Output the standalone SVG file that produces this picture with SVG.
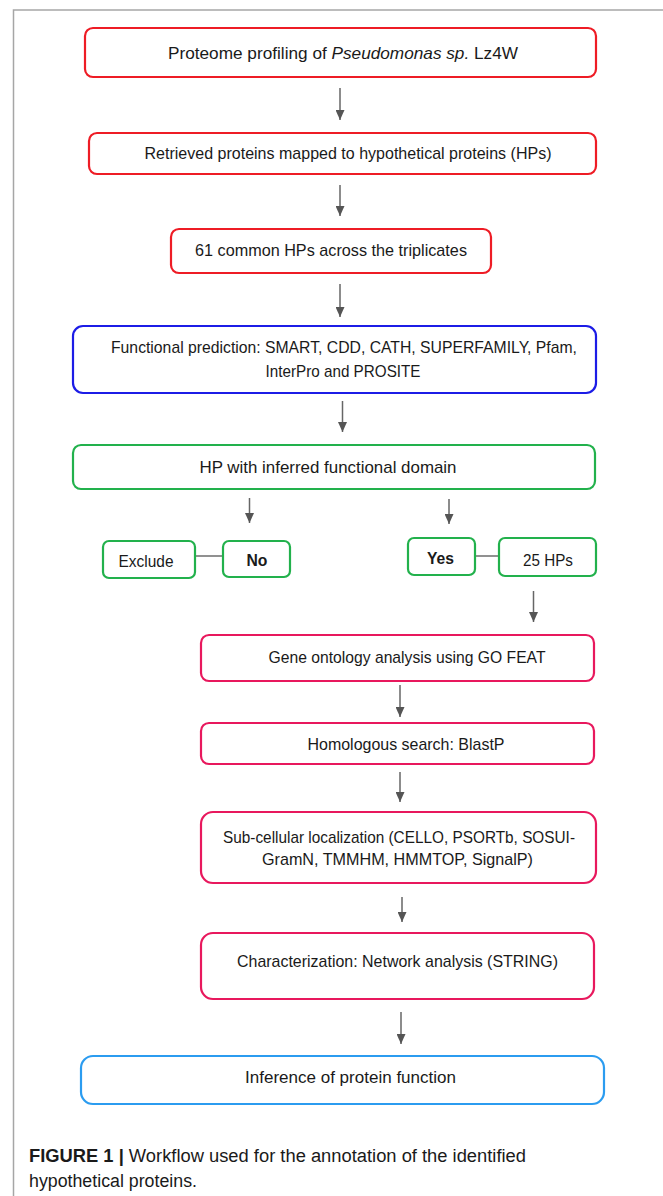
<svg xmlns="http://www.w3.org/2000/svg" width="663" height="1196" viewBox="0 0 663 1196">
<style>
.box{fill:#fff;stroke-width:2.2}
.red{stroke:#ee1c25}
.blue{stroke:#1c1ce6}
.green{stroke:#22b14c}
.pink{stroke:#e8185d}
.lblue{stroke:#2b9cf0}
.t{font-family:"Liberation Sans",Arial,sans-serif;font-size:17px;fill:#1a1a1a;text-anchor:middle}
.b{font-weight:bold}
.arr{stroke:#666;stroke-width:1.5;fill:none;marker-end:url(#ah)}
.ln{stroke:#555;stroke-width:1.3}
.cap{font-family:"Liberation Sans",Arial,sans-serif;font-size:18px;fill:#1a1a1a}
</style>
<defs>
<marker id="ah" markerUnits="userSpaceOnUse" markerWidth="10" markerHeight="9" viewBox="0 0 10 9" refX="10" refY="4.5" orient="auto">
<path d="M0,0 L10,4.5 L0,9 z" fill="#555"/>
</marker>
</defs>
<rect width="663" height="1196" fill="#fff"/>
<g id="frame">
<path d="M13.5,1196 L13.5,10 L663,10" fill="none" stroke="#a6a6a6" stroke-width="1.5"/>
</g>
<g id="connectors">
<line class="arr" x1="340" y1="88" x2="340" y2="120"/>
<line class="arr" x1="340" y1="185" x2="340" y2="216"/>
<line class="arr" x1="340" y1="284" x2="340" y2="317"/>
<line class="arr" x1="342.5" y1="401" x2="342.5" y2="432"/>
<line class="arr" x1="249.5" y1="498" x2="249.5" y2="523"/>
<line class="arr" x1="449" y1="499" x2="449" y2="524"/>
<line class="arr" x1="533.5" y1="591" x2="533.5" y2="622"/>
<line class="arr" x1="400" y1="685" x2="400" y2="717"/>
<line class="arr" x1="400" y1="772" x2="400" y2="802"/>
<line class="arr" x1="402" y1="897" x2="402" y2="922"/>
<line class="arr" x1="401" y1="1012" x2="401" y2="1044"/>
<line class="ln" x1="195" y1="556" x2="223" y2="556"/>
<line class="ln" x1="475" y1="556" x2="499" y2="556"/>
</g>
<g id="n1">
<rect class="box red" x="85" y="28" width="511" height="49" rx="8"/>
<text class="t" x="343" y="59" textLength="350" lengthAdjust="spacingAndGlyphs">Proteome profiling of <tspan font-style="italic">Pseudomonas sp.</tspan> Lz4W</text>
</g>
<g id="n2">
<rect class="box red" x="89" y="133" width="507" height="41" rx="8"/>
<text class="t" x="348" y="159" textLength="407" lengthAdjust="spacingAndGlyphs">Retrieved proteins mapped to hypothetical proteins (HPs)</text>
</g>
<g id="n3">
<rect class="box red" x="171" y="229" width="320" height="44" rx="8"/>
<text class="t" x="331" y="256" textLength="272" lengthAdjust="spacingAndGlyphs">61 common HPs across the triplicates</text>
</g>
<g id="n4">
<rect class="box blue" x="73" y="326" width="523" height="67" rx="10"/>
<text class="t" x="344" y="353" textLength="466" lengthAdjust="spacingAndGlyphs">Functional prediction: SMART, CDD, CATH, SUPERFAMILY, Pfam,</text>
<text class="t" x="343" y="377" textLength="155" lengthAdjust="spacingAndGlyphs">InterPro and PROSITE</text>
</g>
<g id="n5">
<rect class="box green" x="73" y="445" width="522" height="44" rx="8"/>
<text class="t" x="328" y="472.5" textLength="257" lengthAdjust="spacingAndGlyphs">HP with inferred functional domain</text>
</g>
<g id="exclude">
<rect class="box green" x="103" y="541" width="92" height="37" rx="6"/>
<text class="t" x="146" y="566.5" textLength="55" lengthAdjust="spacingAndGlyphs">Exclude</text>
</g>
<g id="no">
<rect class="box green" x="223" y="541" width="67" height="36" rx="6"/>
<text class="t b" x="257" y="566" textLength="21" lengthAdjust="spacingAndGlyphs">No</text>
</g>
<g id="yes">
<rect class="box green" x="408" y="538" width="67" height="37" rx="6"/>
<text class="t b" x="440.5" y="563.5" textLength="27" lengthAdjust="spacingAndGlyphs">Yes</text>
</g>
<g id="hps25">
<rect class="box green" x="499" y="538" width="97" height="38" rx="6"/>
<text class="t" x="548" y="565.5" textLength="50" lengthAdjust="spacingAndGlyphs">25 HPs</text>
</g>
<g id="n6">
<rect class="box pink" x="201" y="635" width="393" height="46" rx="8"/>
<text class="t" x="407" y="663" textLength="277" lengthAdjust="spacingAndGlyphs">Gene ontology analysis using GO FEAT</text>
</g>
<g id="n7">
<rect class="box pink" x="201" y="723" width="393" height="41" rx="8"/>
<text class="t" x="406" y="750" textLength="197" lengthAdjust="spacingAndGlyphs">Homologous search: BlastP</text>
</g>
<g id="n8">
<rect class="box pink" x="201" y="812" width="395" height="71" rx="12"/>
<text class="t" x="399" y="842.5" textLength="352" lengthAdjust="spacingAndGlyphs">Sub-cellular localization (CELLO, PSORTb, SOSUI-</text>
<text class="t" x="397.5" y="864.5" textLength="271" lengthAdjust="spacingAndGlyphs">GramN, TMMHM, HMMTOP, SignalP)</text>
</g>
<g id="n9">
<rect class="box pink" x="201" y="933" width="393" height="66" rx="12"/>
<text class="t" x="397.5" y="967" textLength="321" lengthAdjust="spacingAndGlyphs">Characterization: Network analysis (STRING)</text>
</g>
<g id="n10">
<rect class="box lblue" x="81" y="1056" width="523" height="48" rx="12"/>
<text class="t" x="350.5" y="1083" textLength="211" lengthAdjust="spacingAndGlyphs">Inference of protein function</text>
</g>
<g id="caption">
<text class="cap" x="29" y="1162" textLength="497" lengthAdjust="spacingAndGlyphs"><tspan font-weight="bold">FIGURE 1 |</tspan> Workflow used for the annotation of the identified</text>
<text class="cap" x="29" y="1187" textLength="168" lengthAdjust="spacingAndGlyphs">hypothetical proteins.</text>
</g>
</svg>
